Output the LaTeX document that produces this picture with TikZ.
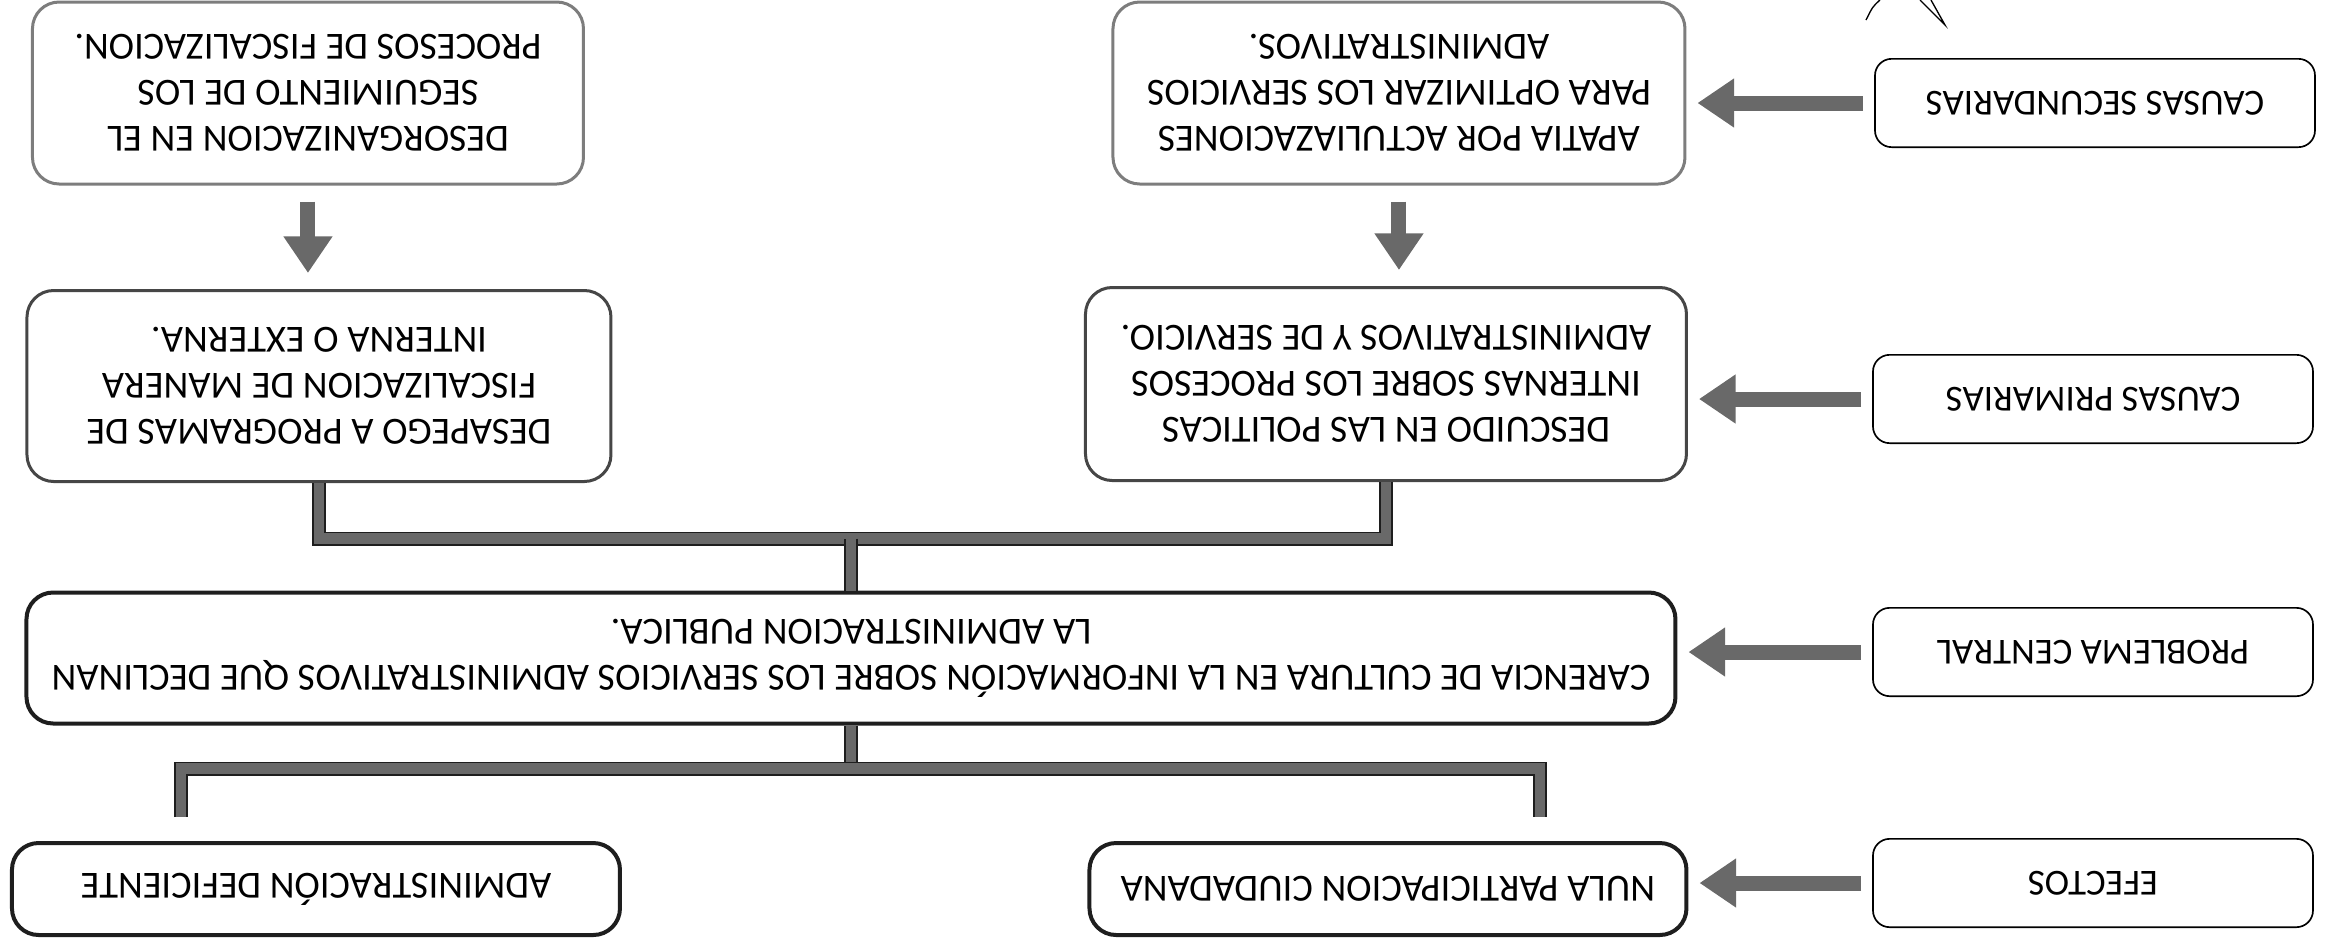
\documentclass[tikz,border=0pt]{standalone}
\usepackage{fontspec}
\setmainfont{Carlito}
\usetikzlibrary{arrows.meta,calc}
\definecolor{scancolor0001}{RGB}{30,30,30}
\definecolor{scancolor0002}{RGB}{70,70,70}
\definecolor{scancolor0003}{RGB}{125,125,125}
\definecolor{scancolor0004}{RGB}{105,105,105}

\begin{document}
\begin{tikzpicture}[rotate=180,transform shape
,pstyle0/.style={draw=black,fill=white,line width=0.5pt,rounded corners=5pt,align=center,inner sep=0,minimum width=132pt,minimum height=26.5pt,font=\fontsize{11}{13.5}\selectfont}
,pstyle1/.style={draw=scancolor0003,fill=white,line width=0.9pt,rounded corners=8pt,align=center,inner sep=0,font=\fontsize{11.5}{13.8}\selectfont}
,pstyle2/.style={draw=scancolor0002,fill=white,line width=0.9pt,rounded corners=8pt,align=center,inner sep=0,font=\fontsize{11.5}{13.8}\selectfont}
,pstyle3/.style={draw=scancolor0001,fill=white,line width=1.2pt,rounded corners=8pt,align=center,inner sep=0,font=\fontsize{11.5}{13.8}\selectfont}
,pstyle4/.style={draw=scancolor0001,double=scancolor0004,double distance=3.2pt,line width=0.5pt}
,pstyle5/.style={draw=scancolor0004,line width=4.5pt,-{Triangle[length=11pt,width=14pt]}}
,pstyle6/.style={draw=black,line width=0.4pt}
]
\useasboundingbox (0pt,0pt) rectangle (697.8pt,284.1pt);
% causas secundarias
\node[pstyle0] (lblsec) at (69.3pt,30.9pt) {CAUSAS SECUNDARIAS};
\node[pstyle1,minimum width=165.3pt,minimum height=54.6pt] (desorg) at (605.4pt,27.9pt) {DESORGANIZACION EN EL\\SEGUIMIENTO DE LOS\\PROCESOS DE FISCALIZACION.};
\node[pstyle1,minimum width=171.6pt,minimum height=54.6pt] (apatia) at (278.1pt,27.9pt) {APATIA POR ACTULIAZACIONES\\PARA OPTIMIZAR LOS SERVICIOS\\ADMINISTRATIVOS.};
% causas primarias
\node[pstyle0] (lblprim) at (69.9pt,119.7pt) {CAUSAS PRIMARIAS};
\node[pstyle2,minimum width=175.2pt,minimum height=57.3pt] (desapego) at (602.1pt,115.8pt) {DESAPEGO A PROGRAMAS DE\\FISCALIZACION DE MANERA\\INTERNA O EXTERNA.};
\node[pstyle2,minimum width=180.3pt,minimum height=57.9pt] (descuido) at (282pt,115.2pt) {DESCUIDO EN LAS POLITICAS\\INTERNAS SOBRE LOS PROCESOS\\ADMINISTRATIVOS Y DE SERVICIO.};
% problema central
\node[pstyle0] (lblcent) at (69.9pt,195.6pt) {PROBLEMA CENTRAL};
\node[pstyle3,minimum width=494.7pt,minimum height=39.3pt] (central) at (442.5pt,197.4pt) {CARENCIA DE CULTURA EN LA INFORMACIÓN SOBRE LOS SERVICIOS ADMINISTRATIVOS QUE DECLINAN\\LA ADMINISTRACION PUBLICA.};
% efectos
\node[pstyle0] (lblefe) at (69.9pt,264.9pt) {EFECTOS};
\node[pstyle3,minimum width=182.4pt,minimum height=27.6pt] (adm) at (603pt,266.7pt) {ADMINISTRACIÓN DEFICIENTE};
\node[pstyle3,minimum width=179.1pt,minimum height=27.6pt] (nula) at (281.4pt,266.7pt) {NULA PARTICIPACION CIUDADANA};
% flechas de las etiquetas
\draw[pstyle5,shorten <=3.3pt,shorten >=3.3pt] (lblsec.east) -- (lblsec.east -| apatia.west);
\draw[pstyle5,shorten <=3.3pt,shorten >=3.3pt] (lblprim.east) -- (lblprim.east -| descuido.west);
\draw[pstyle5,shorten <=3.3pt,shorten >=3.3pt] (lblcent.east) -- (lblcent.east -| central.west);
\draw[pstyle5,shorten <=3.3pt,shorten >=3.3pt] (lblefe.east) -- (lblefe.east -| nula.west);
% secundarias a primarias
\draw[pstyle5,shorten <=4.8pt,shorten >=4.8pt] (desorg.north) -- (desorg.north |- desapego.south);
\draw[pstyle5,shorten <=4.8pt,shorten >=4.8pt] (apatia.north) -- (apatia.north |- descuido.south);
% barras
\coordinate (causebar) at ($(central.south)+(0,-15.6pt)$);
\coordinate (effbar) at ($(central.north)+(0,12.9pt)$);
\coordinate (admin) at ($(adm.south)+(40.5pt,-7.2pt)$);
\coordinate (nulin) at ($(nula.south)+(-45.6pt,-7.2pt)$);
\draw[pstyle4] (desapego.north) -- (desapego.north |- causebar) -- (descuido.north |- causebar) -- (descuido.north);
\draw[pstyle4] (causebar) -- (central.south);
\draw[pstyle4] (central.north) -- (effbar);
\draw[pstyle4] (admin) -- (admin |- effbar) -- (nulin |- effbar) -- (nulin);
% trazo suelto
\draw[pstyle6] (138pt,6pt) .. controls (136pt,2pt) .. (133.8pt,0pt);
\draw[pstyle6] (121.8pt,0pt) -- (114.3pt,7.5pt) -- (118.5pt,0pt);
\end{tikzpicture}
\end{document}
